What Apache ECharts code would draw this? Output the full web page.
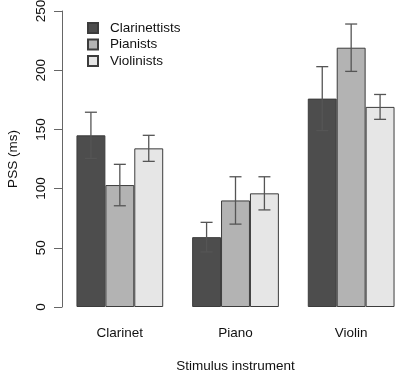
<!DOCTYPE html>
<html>
<head>
<meta charset="utf-8">
<script src="https://cdn.jsdelivr.net/npm/echarts@6/dist/echarts.min.js"></script>
<style>
  html, body { margin: 0; padding: 0; background: #fff; }
  #main { width: 397px; height: 371px; }
</style>
</head>
<body>
<div id="main"></div>
<script>
var categories = ['Clarinet', 'Piano', 'Violin'];
var groups = ['Clarinettists', 'Pianists', 'Violinists'];
var clarinettists = [145, 59, 176];
var pianists = [103, 90, 219];
var violinists = [134, 96, 169];
// standard errors (half length of the error bars)
var clarinettistsErr = [19.5, 12.5, 27];
var pianistsErr = [17.5, 20, 20];
var violinistsErr = [11, 14, 10.5];
var yTicks = [0, 50, 100, 150, 200, 250];

var means = [clarinettists, pianists, violinists];
var errs = [clarinettistsErr, pianistsErr, violinistsErr];
var colors = ['#4d4d4d', '#b3b3b3', '#e6e6e6'];

var errData = [];
for (var s = 0; s < 3; s++) {
    for (var c = 0; c < categories.length; c++) {
        errData.push([c, s, means[s][c] - errs[s][c], means[s][c] + errs[s][c]]);
    }
}

var font = 'Liberation Sans, Arial, sans-serif';
var chart = echarts.init(document.getElementById('main'));

var series = groups.map(function (name, i) {
    return {
        name: name,
        type: 'bar',
        data: means[i],
        barGap: 0,
        barCategoryGap: '25%',
        itemStyle: { color: colors[i], borderColor: '#3c3c3c', borderWidth: 1 }
    };
});

series.push({
    type: 'custom',
    name: 'se',
    data: errData,
    encode: { x: 0, y: [2, 3] },
    renderItem: function (params, api) {
        var ci = api.value(0), si = api.value(1);
        var band = api.size([1, 0])[0];
        var bw = band * 0.75 / 3;
        var x = api.coord([ci, 0])[0] + (si - 1) * bw;
        var lo = api.coord([ci, api.value(2)])[1];
        var hi = api.coord([ci, api.value(3)])[1];
        var cap = 6;
        var st = { stroke: '#555', lineWidth: 1.3 };
        return {
            type: 'group',
            children: [
                { type: 'line', shape: { x1: x, y1: lo, x2: x, y2: hi }, style: st },
                { type: 'line', shape: { x1: x - cap, y1: hi, x2: x + cap, y2: hi }, style: st },
                { type: 'line', shape: { x1: x - cap, y1: lo, x2: x + cap, y2: lo }, style: st }
            ]
        };
    },
    z: 5
});

var option = {
    backgroundColor: '#fff',
    animation: false,
    textStyle: { fontFamily: font },
    grid: { left: 62, right: -12, top: 11, bottom: 64, outerBoundsMode: 'none', containLabel: false },
    legend: {
        data: groups,
        orient: 'vertical',
        left: 87,
        top: 21,
        padding: 0,
        itemWidth: 10,
        itemHeight: 10,
        itemGap: 2.5,
        icon: 'rect',
        textStyle: { fontSize: 13.5, color: '#111', fontFamily: font, padding: [0, 0, 0, 7] }
    },
    xAxis: {
        type: 'category',
        data: categories,
        name: 'Stimulus instrument',
        nameLocation: 'middle',
        nameGap: 52,
        nameTextStyle: { fontSize: 13.5, color: '#111' },
        axisLine: { show: false },
        axisTick: { show: false },
        axisLabel: { fontSize: 13.5, color: '#111', margin: 19 }
    },
    yAxis: {
        type: 'value',
        min: yTicks[0],
        max: yTicks[yTicks.length - 1],
        interval: 50,
        name: 'PSS (ms)',
        nameLocation: 'middle',
        nameRotate: 90,
        nameGap: 42,
        nameTextStyle: { fontSize: 13.5, color: '#111' },
        axisLine: { show: true, lineStyle: { color: '#666', width: 1 } },
        axisTick: { show: true, length: 8, lineStyle: { color: '#666' } },
        axisLabel: { fontSize: 13.5, color: '#111', rotate: 90, margin: 14 },
        splitLine: { show: false }
    },
    series: series
};
chart.setOption(option);
</script>
</body>
</html>
